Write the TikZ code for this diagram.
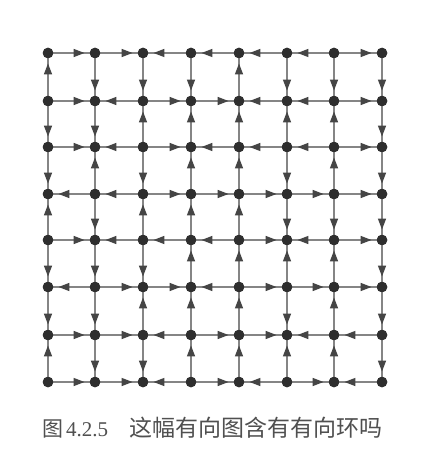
\documentclass[tikz,border=0pt]{standalone}
\usepackage{fontspec}
\newfontfamily\cjk{Noto Sans CJK SC}
\newfontfamily\numf{Liberation Serif}
\usetikzlibrary{arrows.meta,decorations.markings}
\definecolor{linec}{HTML}{858585}
\definecolor{dotc}{HTML}{2E2E2E}
\definecolor{tipc}{HTML}{454545}
\definecolor{capc}{HTML}{505050}
\tikzset{
  vtx/.style={circle,fill=dotc,draw=none,inner sep=0pt,minimum size=10.5pt},
  link/.style={draw=linec,line width=1.5pt,postaction={decorate},
    decoration={markings,mark=at position -5pt with {\arrow[tipc]{Triangle[length=11pt,width=8pt]}}}},
  captext/.style={text=capc,inner sep=0pt,anchor=west}
}
\begin{document}
\begin{tikzpicture}[x=1pt,y=-1pt]
\fill[white] (0,0) rectangle (446,454);
\useasboundingbox (0,0) rectangle (446,454);
\foreach \c/\x in {0/48,1/95,2/143,3/191,4/239,5/287,6/334,7/382}{
  \foreach \r/\y in {0/53,1/101,2/147,3/194,4/240,5/287,6/335,7/382}{
    \node[vtx] (n\c\r) at (\x,\y) {};
  }
}
\foreach \a/\b in {
 00/10,10/20,30/20,40/30,50/40,60/50,60/70,
 01/11,21/11,21/31,31/41,51/41,61/51,61/71,
 02/12,22/12,22/32,42/32,52/42,62/52,62/72,
 13/03,23/13,23/33,33/43,43/53,53/63,63/73,
 04/14,24/14,34/24,44/34,44/54,64/54,64/74,
 15/05,15/25,25/35,45/35,45/55,55/65,65/75,
 06/16,16/26,36/26,36/46,46/56,66/56,76/66,
 07/17,17/27,37/27,37/47,57/47,57/67,77/67,
 01/00,01/02,02/03,04/03,04/05,05/06,07/06,
 10/11,11/12,13/12,13/14,14/15,15/16,16/17,
 20/21,22/21,22/23,24/23,24/25,26/25,26/27,
 30/31,32/31,33/32,34/33,35/34,36/35,37/36,
 41/40,42/41,43/42,44/43,45/44,46/45,47/46,
 50/51,52/51,52/53,53/54,55/54,55/56,57/56,
 60/61,62/61,63/62,63/64,65/64,66/65,67/66,
 70/71,71/72,72/73,73/74,74/75,75/76,76/77}{
  \path[link] (n\a) -- (n\b);
}
\foreach \c in {0,...,7}{\foreach \r in {0,...,7}{\node[vtx] at (n\c\r) {};}}
\node[captext] (caption) at (42,428) {\fontsize{21}{25}\selectfont\cjk 图\hspace{3pt}\numf 4.2.5\hspace{21pt}\fontsize{23}{27}\selectfont\cjk 这幅有向图含有有向环吗};
\end{tikzpicture}
\end{document}
